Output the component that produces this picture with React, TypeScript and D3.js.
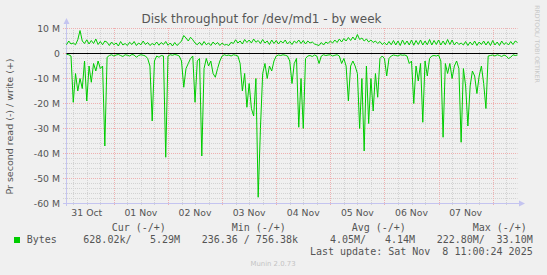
import React from 'react';
import * as d3 from 'd3';

const W = 547;
const H = 275;

const startTime = new Date(2025, 9, 31, 3, 0, 0);
const endTime = new Date(2025, 10, 8, 11, 0, 0);

// write (+) in MB/s, hourly samples
const writeM = [
  3.5, 5, 3.8, 4.2, 3.5, 5.5, 9.2, 5, 4, 5.5,
  3.8, 5.2, 4, 5.8, 3.6, 4.8, 3.5, 5, 4.5, 3.2,
  4.6, 3.5, 4.2, 3, 4.8, 3.4, 4, 3.2, 4.5, 3.6,
  4.8, 3.2, 4.2, 3.5, 5, 3.6, 4.4, 3.2, 4, 3.4,
  4.6, 3.3, 4.4, 3.6, 4.8, 3.3, 4.2, 3, 4.4, 3.2,
  4, 5, 7.2, 6.2, 5, 6.5, 5.5, 4.2, 3.5, 4.5,
  3.3, 4.8, 3.5, 4.2, 3.2, 4.6, 3.6, 4.4, 3.2, 4.2,
  3.4, 3.6, 3.2, 4.5, 4, 5.5, 4.2, 5, 3.8, 5.6,
  4.4, 5.4, 4.2, 5.8, 4.5, 5.2, 4, 5.6, 4.2, 5,
  3.6, 5.4, 4, 5.2, 3.8, 5, 4.2, 5.4, 3.8, 4.8,
  3.6, 5, 4.2, 5.4, 4, 5.2, 3.8, 5, 4.2, 4.6,
  3.8, 3.5, 3.2, 4.4, 3.4, 4.6, 4, 5, 4.2, 5.4,
  4.4, 5.8, 4.6, 6, 5, 6.4, 5.2, 6.6, 5.4, 7.6,
  5.6, 6.2, 5, 5.8, 4.6, 5.4, 4.4, 5, 4, 4.8,
  3.6, 4.4, 3.4, 4.8, 3.5, 5.2, 3.4, 5, 3.2, 5.4,
  3.6, 5, 3.4, 5.4, 3.3, 5.2, 3.6, 5.4, 3.4, 5,
  3.5, 5.6, 3.4, 5.2, 3.6, 5.4, 3.4, 5, 3.5, 5.6,
  3.6, 5.4, 3.4, 4.6, 3.6, 4.2, 3.4, 4.8, 3.2, 4.6,
  3.4, 5, 3.2, 4.6, 3.6, 5, 3.4, 4.8, 3.2, 5.2,
  3.4, 4.6, 3.2, 5, 3.6, 4.4, 3.4, 4.8, 3.6, 5,
  4.4,
];

// read (-) in MB/s, hourly samples (plotted negative)
const readM = [
  0.3, 0.5, 1, 19.5, 8, 15, 10, 14, 3, 19,
  5, 11.5, 4, 7, 3, 6, 5, 37, 1.5, 0.8,
  0.5, 1, 0.6, 0.4, 0.8, 1.2, 0.5, 0.7, 1, 0.4,
  0.6, 1.5, 0.8, 0.5, 0.7, 1, 2, 5, 27, 3,
  1, 1.5, 0.8, 1, 41.5, 1, 0.5, 0.7, 0.4, 0.6,
  1, 3, 13.5, 6, 4, 2, 1, 19.5, 3, 2,
  41, 6, 2, 5, 3, 8, 9.5, 6, 3, 1,
  0.5, 0.8, 0.6, 1, 0.5, 0.7, 1, 4, 15, 8,
  21.5, 12, 22, 25, 10, 57.5, 30, 8, 4, 10,
  5, 7, 3, 1, 0.6, 0.8, 0.5, 0.7, 1, 3,
  12, 4, 2, 29.5, 10, 30, 2, 1, 0.8, 1.2,
  0.6, 1, 4, 1, 0.5, 0.8, 0.6, 0.5, 1, 0.7,
  0.5, 1, 4, 2, 5, 19, 5, 3, 5, 8,
  30, 10, 39, 5, 28, 10, 23, 8, 17.5, 2,
  1, 2, 9, 2, 1, 0.6, 0.8, 1, 0.5, 0.7,
  0.6, 1, 4, 3, 20, 5, 11, 4, 27.5, 3,
  9, 2, 1, 0.8, 1, 0.6, 3, 33.5, 4, 8,
  4, 10, 5, 3, 6, 35.5, 6, 13, 29, 13,
  7, 9, 16, 9, 5, 12, 22, 1, 0.8, 0.6,
  1, 0.5, 0.8, 1.2, 0.6, 1, 2, 1.5, 0.5, 0.8,
  0.6,
];

const yTicks = [10, 0, -10, -20, -30, -40, -50, -60];
const legendHeaders = ['Cur (-/+)', 'Min (-/+)', 'Avg (-/+)', 'Max (-/+)'];
const legendValues = ['628.02k/', '5.29M', '236.36 / 756.38k', '4.05M/', '4.14M', '222.80M/', '33.10M'];
const seriesName = 'Bytes';
const titleText = 'Disk throughput for /dev/md1 - by week';
const yLabel = 'Pr second read (-) / write (+)';
const lastUpdate = 'Last update: Sat Nov  8 11:00:24 2025';
const footer = 'Munin 2.0.73';
const watermark = 'RRDTOOL/ TOBI OETIKER';

export default function App() {
  const x = d3.scaleTime().domain([startTime, endTime]).range([66.5, 517.5]);
  const y = d3.scaleLinear().domain([-60, 10]).range([203.5, 28.5]);

  const times = writeM.map((_, i) => d3.timeHour.offset(startTime, i));
  const line = d3
    .line<number>()
    .x((_, i) => x(times[i]))
    .y((d) => y(d));
  const writePath = line(writeM) || '';
  const readPath = line(readM.map((v) => -v)) || '';

  const minorY = d3.range(-60, 10.001, 2).filter((v) => Math.abs(v % 10) > 0.01);
  const majorY = d3.range(-60, 10.001, 10);
  const sixHours = d3.timeHour.every(6)!.range(startTime, endTime);
  const minorX = sixHours.filter((t) => t.getHours() !== 0);
  const majorX = d3.timeDay.range(startTime, endTime);
  const noonLabels = d3.timeHour
    .every(12)!
    .range(startTime, endTime)
    .filter((t) => t.getHours() === 12);
  const fmt = d3.timeFormat('%d %b');

  const gridMinor = '#d2d2d2';
  const gridMajor = '#eeb0b0';
  const axisCol = '#c4c4f0';
  const textCol = '#555';
  const green = '#00cc00';
  const sans = 'DejaVu Sans, sans-serif';
  const mono = 'DejaVu Sans Mono, monospace';

  const valuePos: [number, 'start' | 'end'][] = [
    [83.3, 'start'],
    [180, 'end'],
    [201.7, 'start'],
    [330, 'start'],
    [415, 'end'],
    [436.7, 'start'],
    [532.7, 'end'],
  ];
  const headerPos = [111.7, 231.7, 351.7, 472.7];

  return (
    <svg
      width={W}
      height={H}
      style={{ position: 'absolute', left: 0, top: 0, background: '#f0f0f0' }}
    >
      <rect x={0} y={0} width={W} height={H} fill="#f0f0f0" />

      {/* minor grid */}
      {minorY.map((v) => (
        <line key={'my' + v} x1={63} x2={517.5} y1={y(v)} y2={y(v)} stroke={gridMinor} strokeDasharray="1 1" />
      ))}
      {minorX.map((t) => (
        <line key={'mx' + t.getTime()} x1={Math.round(x(t)) + 0.5} x2={Math.round(x(t)) + 0.5} y1={28} y2={206} stroke={gridMinor} strokeDasharray="1 1" />
      ))}
      {/* major grid */}
      {majorY.map((v) => (
        <line key={'My' + v} x1={63} x2={517.5} y1={y(v)} y2={y(v)} stroke={gridMajor} strokeDasharray="1 1" />
      ))}
      {majorX.map((t) => (
        <line key={'Mx' + t.getTime()} x1={Math.round(x(t)) + 0.5} x2={Math.round(x(t)) + 0.5} y1={28} y2={206} stroke={gridMajor} strokeDasharray="1 1" />
      ))}

      {/* axes */}
      <line x1={66.5} x2={66.5} y1={206} y2={22} stroke={axisCol} />
      <path d="M63.5,24 L69.5,24 L66.5,18 Z" fill={axisCol} />
      <line x1={63} x2={520} y1={203.5} y2={203.5} stroke={axisCol} />
      <path d="M519,200.5 L519,206.5 L525,203.5 Z" fill={axisCol} />

      {/* data */}
      <path d={readPath} fill="none" stroke={green} strokeWidth={1} />
      <path d={writePath} fill="none" stroke={green} strokeWidth={1} />
      <line x1={66.5} x2={517.5} y1={y(0)} y2={y(0)} stroke="#000" strokeWidth={1} />

      {/* y tick labels */}
      {yTicks.map((v) => (
        <text key={'yt' + v} x={60} y={y(v)} dy="0.35em" textAnchor="end" fontFamily={sans} fontSize={9.3} fill={textCol}>
          {v === 0 ? '0' : `${v} M`}
        </text>
      ))}
      {/* x tick labels */}
      {noonLabels.map((t) => (
        <text key={'xt' + t.getTime()} x={x(t)} y={216} textAnchor="middle" fontFamily={sans} fontSize={9.3} fill={textCol}>
          {fmt(t)}
        </text>
      ))}

      {/* title */}
      <text x={261.5} y={23} textAnchor="middle" fontFamily={sans} fontSize={12} fill={textCol}>
        {titleText}
      </text>
      {/* y label */}
      <text
        transform="translate(13,126.5) rotate(-90)"
        textAnchor="middle"
        fontFamily={sans}
        fontSize={9.5}
        fill={textCol}
      >
        {yLabel}
      </text>
      {/* watermark */}
      <text
        transform="translate(535,44) rotate(90)"
        textAnchor="middle"
        fontFamily={sans}
        fontSize={6.2}
        fill="#c8c8c8"
      >
        {watermark}
      </text>

      {/* legend */}
      {legendHeaders.map((h, i) => (
        <text key={'lh' + i} x={headerPos[i]} y={231} fontFamily={mono} fontSize={10} fill={textCol} style={{ whiteSpace: 'pre' }}>
          {h}
        </text>
      ))}
      <rect x={14} y={237} width={6} height={6} fill={green} />
      <text x={26.7} y={243} fontFamily={mono} fontSize={10} fill={textCol}>
        {seriesName}
      </text>
      {legendValues.map((v, i) => (
        <text key={'lv' + i} x={valuePos[i][0]} y={243} textAnchor={valuePos[i][1]} fontFamily={mono} fontSize={10} fill={textCol} style={{ whiteSpace: 'pre' }}>
          {v}
        </text>
      ))}
      <text x={532.7} y={255} textAnchor="end" fontFamily={mono} fontSize={10} fill={textCol} style={{ whiteSpace: 'pre' }}>
        {lastUpdate}
      </text>
      <text x={273} y={266} textAnchor="middle" fontFamily={sans} fontSize={6.9} fill="#c4c4c4">
        {footer}
      </text>
    </svg>
  );
}
